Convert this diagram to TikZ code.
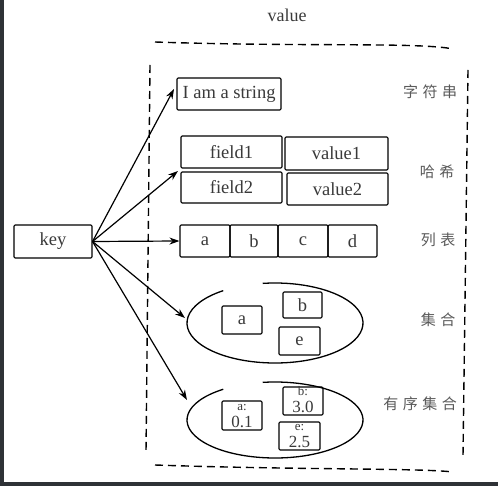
\documentclass[tikz,border=0pt]{standalone}
\usepackage{fontspec}
\setmainfont{Liberation Serif}
\newfontfamily\cjk[LetterSpace=30]{Noto Sans CJK SC}
\usetikzlibrary{arrows.meta}
\definecolor{txt}{HTML}{3A3A3A}
\definecolor{cjkc}{HTML}{5A5A5A}
\definecolor{bord}{HTML}{2E3236}
\begin{document}
\begin{tikzpicture}[x=1pt,y=-1pt,
  cell/.style={draw=black, line width=1.1pt, rounded corners=1.2pt, inner sep=0pt, text=txt, font=\fontsize{18.5}{19}\selectfont},
  box/.style={draw=black, line width=1.1pt, rounded corners=1.2pt, inner sep=0pt},
  top/.style={text=txt, inner sep=0pt, font=\fontsize{13}{13}\selectfont},
  num/.style={text=txt, inner sep=0pt, font=\fontsize{17}{17}\selectfont},
  lbl/.style={text=cjkc, font=\cjk\fontsize{15}{15}\selectfont},
  arr/.style={-{Stealth[length=10pt,width=7pt]}, line width=1.2pt},
  frame/.style={dash pattern=on 8pt off 5pt, line width=1.4pt},
  blob/.style={line width=1.3pt}]
\useasboundingbox (0,0) rectangle (498,486);
\fill[white] (0,0) rectangle (498,486);
\fill[bord] (0,0) rectangle (4,486);
\fill[bord] (0,482) rectangle (498,486);
% title
\node[text=txt, font=\fontsize{18}{18}\selectfont] (title) at (287,15) {value};
% dashed frame
\draw[frame] (155,42) .. controls (300,47) and (420,42) .. (453,49);
\draw[frame] (150,65) -- (146,452);
\draw[frame] (468,70) -- (463,456);
\draw[frame] (155,465) .. controls (300,470) and (420,468) .. (453,472);
% key
\node[cell, minimum width=78pt, minimum height=33pt] (key) at (53,241.5) {key};
% string
\node[cell, minimum width=104pt, minimum height=32pt] (str) at (229,94) {I am a string};
% hash
\node[cell, minimum width=101pt, minimum height=32pt] (f1) at (231.5,152) {field1};
\node[cell, minimum width=103pt, minimum height=33pt] (v1) at (336.5,153.5) {value1};
\node[cell, minimum width=101pt, minimum height=31pt] (f2) at (231.5,187.5) {field2};
\node[cell, minimum width=101pt, minimum height=32pt] (v2) at (337.5,189) {value2};
% list
\node[cell, minimum width=50pt, minimum height=32pt] (la) at (205,241) {a};
\node[cell, minimum width=48pt, minimum height=32pt] (lb) at (254,241) {b};
\node[cell, minimum width=50pt, minimum height=32pt] (lc) at (303,241) {c};
\node[cell, minimum width=49pt, minimum height=32pt] (ld) at (352.5,241) {d};
% set
\draw[blob] (275,323) ++(-126:88 and 40) arc[start angle=-126, end angle=-458, x radius=88, y radius=40];
\node[cell, minimum width=40pt, minimum height=28pt] (sa) at (242,320) {a};
\node[cell, minimum width=39pt, minimum height=26pt] (sb) at (302.5,305) {b};
\node[cell, minimum width=41pt, minimum height=28pt] (se) at (299.5,341) {e};
% zset
\draw[blob] (275,420) ++(-126:88 and 38) arc[start angle=-126, end angle=-458, x radius=88, y radius=38];
\node[box, minimum width=40pt, minimum height=29pt] (za) at (242,415.5) {};
\node[box, minimum width=40pt, minimum height=28pt] (zb) at (303,401) {};
\node[box, minimum width=41pt, minimum height=28pt] (ze) at (299.5,436) {};
\node[top, anchor=base] (zat) at (242,410) {a:};
\node[num, anchor=base] (zan) at (242,427) {0.1};
\node[top, anchor=base] (zbt) at (303,395.5) {b:};
\node[num, anchor=base] (zbn) at (303,412.5) {3.0};
\node[top, anchor=base] (zet) at (299.5,430.5) {e:};
\node[num, anchor=base] (zen) at (299.5,447.5) {2.5};
% labels
\node[lbl] (l1) at (430,92) {字符串};
\node[lbl] (l2) at (437,172) {哈希};
\node[lbl] (l3) at (438,240) {列表};
\node[lbl] (l4) at (438,320) {集合};
\node[lbl] (l5) at (420,404) {有序集合};
% arrow targets
\coordinate (hin) at (178,171);
\coordinate (sin) at (185,318);
\coordinate (zin) at (187,400);
\coordinate (strin) at (174,89);
% arrows
\draw[arr] (key.east) -- (strin);
\draw[arr] (key.east) -- (hin);
\draw[arr] (key.east) -- (la.west);
\draw[arr] (key.east) -- (sin);
\draw[arr] (key.east) -- (zin);
\end{tikzpicture}
\end{document}
